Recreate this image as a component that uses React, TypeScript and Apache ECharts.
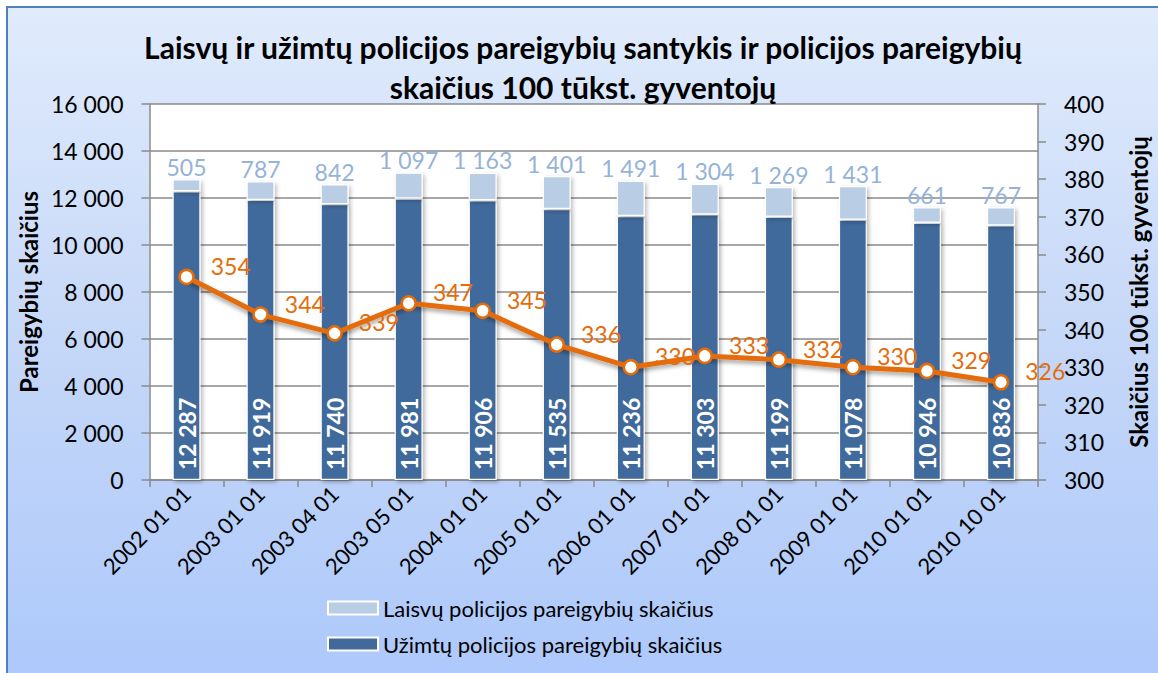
import React, { useEffect, useRef } from "react";
import * as echarts from "echarts";

const categories = [
  "2002 01 01", "2003 01 01", "2003 04 01", "2003 05 01", "2004 01 01", "2005 01 01",
  "2006 01 01", "2007 01 01", "2008 01 01", "2009 01 01", "2010 01 01", "2010 10 01",
];
const occupied = [12287, 11919, 11740, 11981, 11906, 11535, 11236, 11303, 11199, 11078, 10946, 10836];
const vacant = [505, 787, 842, 1097, 1163, 1401, 1491, 1304, 1269, 1431, 661, 767];
const per100k = [354, 344, 339, 347, 345, 336, 330, 333, 332, 330, 329, 326];

const NAME_VACANT = "Laisvų policijos pareigybių skaičius";
const NAME_OCC = "Užimtų policijos pareigybių skaičius";
const TITLE = "Laisvų ir užimtų policijos pareigybių santykis ir policijos pareigybių\nskaičius 100 tūkst. gyventojų";
const LEFT_NAME = "Pareigybių skaičius";
const RIGHT_NAME = "Skaičius 100 tūkst. gyventojų";

const FONT = "Lato, 'Open Sans', sans-serif";
const fmt = (v: number) => String(v).replace(/\B(?=(\d{3})+(?!\d))/g, " ");

export default function App() {
  const ref = useRef<HTMLDivElement>(null);
  useEffect(() => {
    if (!ref.current) return;
    const chart = echarts.init(ref.current, undefined, { renderer: "svg" });
    const gridLine = "#8a8a8a";
    chart.setOption({
      animation: false,
      textStyle: { fontFamily: FONT },
      title: {
        text: TITLE,
        left: "center",
        top: 14,
        textStyle: { fontFamily: FONT, fontSize: 30, fontWeight: "bold", color: "#000", lineHeight: 40 },
      },
      legend: {
        data: [NAME_VACANT, NAME_OCC],
        orient: "vertical",
        left: 314,
        top: 584,
        itemWidth: 50,
        itemHeight: 13,
        itemGap: 14,
        icon: "rect",
        textStyle: { fontFamily: FONT, fontSize: 22, color: "#000" },
      },
      grid: {
        left: 139,
        right: 114,
        top: 96,
        bottom: 193,
        show: true,
        backgroundColor: "#ffffff",
        borderWidth: 0,
      },
      xAxis: {
        type: "category",
        data: categories,
        axisLine: { lineStyle: { color: gridLine, width: 1.5 } },
        axisTick: { show: true, length: 7, lineStyle: { color: gridLine, width: 1.5 } },
        axisLabel: { rotate: 45, fontSize: 22, color: "#000", margin: 10, fontFamily: FONT },
      },
      yAxis: [
        {
          type: "value",
          min: 0,
          max: 16000,
          interval: 2000,
          name: LEFT_NAME,
          nameLocation: "middle",
          nameGap: 104,
          nameTextStyle: { fontFamily: FONT, fontSize: 24, fontWeight: "bold", color: "#000" },
          axisLine: { show: true, lineStyle: { color: gridLine, width: 1.5 } },
          axisTick: { show: true, length: 8, lineStyle: { color: gridLine, width: 1.5 } },
          axisLabel: { fontSize: 23, color: "#000", margin: 26, formatter: (v: number) => fmt(v), fontFamily: FONT },
          splitLine: { show: true, lineStyle: { color: gridLine, width: 1.5 } },
        },
        {
          type: "value",
          min: 300,
          max: 400,
          interval: 10,
          position: "right",
          name: RIGHT_NAME,
          nameLocation: "middle",
          nameGap: 88,
          nameTextStyle: { fontFamily: FONT, fontSize: 24, fontWeight: "bold", color: "#000" },
          axisLine: { show: true, lineStyle: { color: gridLine, width: 1.5 } },
          axisTick: { show: true, length: 8, lineStyle: { color: gridLine, width: 1.5 } },
          axisLabel: { fontSize: 23, color: "#000", margin: 26, fontFamily: FONT },
          splitLine: { show: false },
        },
      ],
      series: [
        {
          name: NAME_OCC,
          type: "bar",
          stack: "total",
          data: occupied,
          barWidth: 28,
          itemStyle: {
            color: "#416A9B",
            borderColor: "#ffffff",
            borderWidth: 1.2,
            shadowColor: "rgba(0,0,0,0.3)",
            shadowBlur: 4,
            shadowOffsetX: 2,
            shadowOffsetY: 2,
          },
          label: {
            show: true,
            position: "insideBottom",
            rotate: 90,
            align: "left",
            verticalAlign: "middle",
            distance: 10,
            color: "#ffffff",
            fontSize: 23,
            fontWeight: "bold",
            fontFamily: FONT,
            formatter: (p: any) => fmt(p.value),
          },
        },
        {
          name: NAME_VACANT,
          type: "bar",
          stack: "total",
          data: vacant,
          barWidth: 28,
          itemStyle: {
            color: "#B9CDE5",
            borderColor: "#ffffff",
            borderWidth: 1.2,
            shadowColor: "rgba(0,0,0,0.25)",
            shadowBlur: 4,
            shadowOffsetX: 2,
            shadowOffsetY: 2,
          },
          label: {
            show: true,
            position: "top",
            distance: 1,
            color: "#95B3D7",
            fontSize: 23,
            fontFamily: FONT,
            formatter: (p: any) => fmt(p.value),
          },
        },
        {
          name: "per100k",
          type: "line",
          yAxisIndex: 1,
          data: per100k,
          symbol: "circle",
          symbolSize: 14,
          z: 5,
          lineStyle: {
            color: "#E46C0A",
            width: 5,
            shadowColor: "rgba(0,0,0,0.35)",
            shadowBlur: 4,
            shadowOffsetY: 3,
          },
          itemStyle: { color: "#ffffff", borderColor: "#E46C0A", borderWidth: 2.5 },
          label: {
            show: true,
            position: "right",
            distance: 16,
            offset: [0, -11],
            color: "#E46C0A",
            fontSize: 23,
            fontFamily: FONT,
          },
        },
      ],
    });
    return () => chart.dispose();
  }, []);

  return (
    <div style={{ position: "absolute", left: 0, top: 0, width: 1158, height: 673, overflow: "hidden", background: "#ffffff" }}>
      <div
        style={{
          position: "absolute",
          left: 6,
          top: 6,
          width: 1200,
          height: 720,
          border: "2px solid #4F81BD",
          background: "linear-gradient(to bottom, #E0EBFC 0%, #C6D8F8 45%, #A9C6FB 100%)",
        }}
      />
      <div ref={ref} style={{ position: "absolute", left: 8, top: 8, width: 1150, height: 665 }} />
    </div>
  );
}
